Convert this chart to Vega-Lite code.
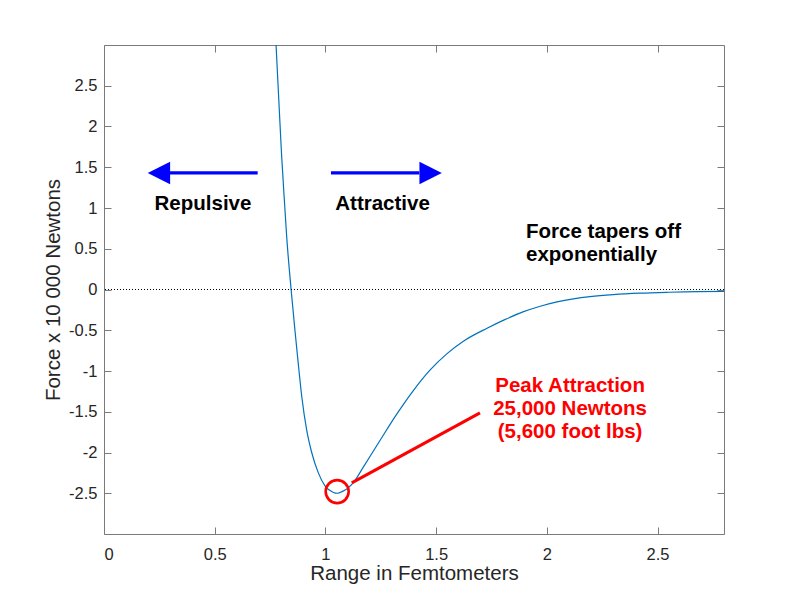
{
  "$schema": "https://vega.github.io/schema/vega-lite/v6.json",
  "description": "Nuclear force vs range",
  "width": 620,
  "height": 489,
  "autosize": "none",
  "padding": {"left": 104, "top": 45, "right": 76, "bottom": 66},
  "background": "white",
  "config": {
    "view": {"stroke": null},
    "font": "Liberation Sans",
    "axis": {
      "grid": false,
      "domainColor": "#7a7a7a",
      "tickColor": "#7a7a7a",
      "tickSize": -7,
      "labelFont": "Liberation Sans",
      "labelFontSize": 16.5,
      "labelColor": "#262626",
      "titleFont": "Liberation Sans",
      "titleFontSize": 20.5,
      "titleFontWeight": "normal",
      "titleColor": "#262626"
    }
  },
  "datasets": {
    "zero": [{"f": 0}],
    "curve": [
      {"r": 0.77, "f": 3.4},
      {"r": 0.777, "f": 3.0},
      {"r": 0.789, "f": 2.35},
      {"r": 0.802, "f": 1.65},
      {"r": 0.814, "f": 1.12},
      {"r": 0.825, "f": 0.65},
      {"r": 0.845, "f": 0.0},
      {"r": 0.862, "f": -0.49},
      {"r": 0.877, "f": -0.9},
      {"r": 0.893, "f": -1.31},
      {"r": 0.915, "f": -1.72},
      {"r": 0.938, "f": -2.0},
      {"r": 0.968, "f": -2.25},
      {"r": 0.998, "f": -2.41},
      {"r": 1.036, "f": -2.49},
      {"r": 1.055, "f": -2.5},
      {"r": 1.075, "f": -2.48},
      {"r": 1.1, "f": -2.44},
      {"r": 1.126, "f": -2.37},
      {"r": 1.171, "f": -2.18},
      {"r": 1.247, "f": -1.85},
      {"r": 1.322, "f": -1.53},
      {"r": 1.397, "f": -1.24},
      {"r": 1.472, "f": -0.99},
      {"r": 1.548, "f": -0.79},
      {"r": 1.623, "f": -0.635},
      {"r": 1.73, "f": -0.475},
      {"r": 1.81, "f": -0.37},
      {"r": 1.892, "f": -0.275},
      {"r": 1.97, "f": -0.205},
      {"r": 2.046, "f": -0.152},
      {"r": 2.12, "f": -0.115},
      {"r": 2.195, "f": -0.088},
      {"r": 2.3, "f": -0.063},
      {"r": 2.42, "f": -0.045},
      {"r": 2.55, "f": -0.034},
      {"r": 2.68, "f": -0.027},
      {"r": 2.8, "f": -0.022}
    ],
    "shafts": [
      {"r1": 0.298, "r2": 0.694, "f": 1.43},
      {"r1": 1.025, "r2": 1.424, "f": 1.43}
    ],
    "heads": [
      {"r": 0.248, "f": 1.43, "dir": "left"},
      {"r": 1.475, "f": 1.43, "dir": "right"}
    ],
    "labels": [
      {"r": 0.447, "f": 0.97, "text": "Repulsive"},
      {"r": 1.258, "f": 0.97, "text": "Attractive"}
    ],
    "taper": [
      {"r": 1.906, "f": 0.634, "text": "Force tapers off"},
      {"r": 1.906, "f": 0.347, "text": "exponentially"}
    ],
    "peak": [
      {"r": 2.105, "f": -1.26, "text": "Peak Attraction"},
      {"r": 2.105, "f": -1.546, "text": "25,000 Newtons"},
      {"r": 2.105, "f": -1.822, "text": "(5,600 foot lbs)"}
    ],
    "marker": [
      {"r": 1.053, "f": -2.48}
    ],
    "pointer": [
      {"r1": 1.119, "f1": -2.372, "r2": 1.698, "f2": -1.513}
    ]
  },
  "layer": [
    {
      "data": {"name": "curve"},
      "mark": {"type": "line", "color": "#0072BD", "strokeWidth": 1.2, "clip": true, "interpolate": "monotone"},
      "encoding": {
        "x": {
          "field": "r",
          "type": "quantitative",
          "scale": {"domain": [0, 2.8], "nice": false, "zero": false},
          "title": "Range in Femtometers",
          "axis": {
            "orient": "bottom",
            "values": [0, 0.5, 1, 1.5, 2, 2.5],
            "labelExpr": "datum.value + ''",
            "labelPadding": 19,
            "titlePadding": 1
          }
        },
        "y": {
          "field": "f",
          "type": "quantitative",
          "scale": {"domain": [-3, 3], "nice": false},
          "title": "Force x 10 000 Newtons",
          "axis": {
            "orient": "left",
            "values": [-2.5, -2, -1.5, -1, -0.5, 0, 0.5, 1, 1.5, 2, 2.5],
            "labelExpr": "datum.value + ''",
            "labelPadding": 14,
            "titlePadding": 5
          }
        }
      }
    },
    {
      "data": {"name": "zero"},
      "mark": {"type": "rule", "color": "black", "strokeWidth": 1, "strokeDash": [1, 2]},
      "encoding": {
        "y": {"field": "f", "type": "quantitative", "axis": null}
      }
    },
    {
      "data": {"name": "shafts"},
      "mark": {"type": "rule", "color": "#0000FF", "strokeWidth": 3.3},
      "encoding": {
        "x": {"field": "r1", "type": "quantitative", "axis": null},
        "x2": {"field": "r2"},
        "y": {"field": "f", "type": "quantitative", "axis": null}
      }
    },
    {
      "data": {"name": "heads"},
      "mark": {"type": "point", "filled": true, "opacity": 1, "color": "#0000FF", "size": 500},
      "encoding": {
        "x": {"field": "r", "type": "quantitative", "axis": null},
        "y": {"field": "f", "type": "quantitative", "axis": null},
        "shape": {
          "field": "dir",
          "type": "nominal",
          "scale": {"domain": ["left", "right"], "range": ["M1,-1L-1,0L1,1Z", "M-1,-1L1,0L-1,1Z"]},
          "legend": null
        }
      }
    },
    {
      "data": {"name": "labels"},
      "mark": {"type": "text", "font": "Liberation Sans", "fontWeight": "bold", "fontSize": 20.5, "color": "black", "align": "center", "baseline": "alphabetic"},
      "encoding": {
        "x": {"field": "r", "type": "quantitative", "axis": null},
        "y": {"field": "f", "type": "quantitative", "axis": null},
        "text": {"field": "text"}
      }
    },
    {
      "data": {"name": "taper"},
      "mark": {"type": "text", "font": "Liberation Sans", "fontWeight": "bold", "fontSize": 20.5, "color": "black", "align": "left", "baseline": "alphabetic"},
      "encoding": {
        "x": {"field": "r", "type": "quantitative", "axis": null},
        "y": {"field": "f", "type": "quantitative", "axis": null},
        "text": {"field": "text"}
      }
    },
    {
      "data": {"name": "peak"},
      "mark": {"type": "text", "font": "Liberation Sans", "fontWeight": "bold", "fontSize": 20.5, "color": "#FF0000", "align": "center", "baseline": "alphabetic"},
      "encoding": {
        "x": {"field": "r", "type": "quantitative", "axis": null},
        "y": {"field": "f", "type": "quantitative", "axis": null},
        "text": {"field": "text"}
      }
    },
    {
      "data": {"name": "marker"},
      "mark": {"type": "point", "shape": "circle", "filled": false, "opacity": 1, "color": "#FF0000", "strokeWidth": 2.6, "size": 530},
      "encoding": {
        "x": {"field": "r", "type": "quantitative", "axis": null},
        "y": {"field": "f", "type": "quantitative", "axis": null}
      }
    },
    {
      "data": {"name": "pointer"},
      "mark": {"type": "rule", "color": "#FF0000", "strokeWidth": 3},
      "encoding": {
        "x": {"field": "r1", "type": "quantitative", "axis": null},
        "x2": {"field": "r2"},
        "y": {"field": "f1", "type": "quantitative", "axis": null},
        "y2": {"field": "f2"}
      }
    },
    {
      "data": {"name": "curve"},
      "mark": {"type": "line", "strokeOpacity": 0},
      "encoding": {
        "x": {
          "field": "r",
          "type": "quantitative",
          "axis": {"orient": "top", "labels": false, "title": null, "values": [0, 0.5, 1, 1.5, 2, 2.5]}
        },
        "y": {
          "field": "f",
          "type": "quantitative",
          "axis": {"orient": "right", "labels": false, "title": null, "values": [-2.5, -2, -1.5, -1, -0.5, 0, 0.5, 1, 1.5, 2, 2.5]}
        }
      }
    }
  ]
}
